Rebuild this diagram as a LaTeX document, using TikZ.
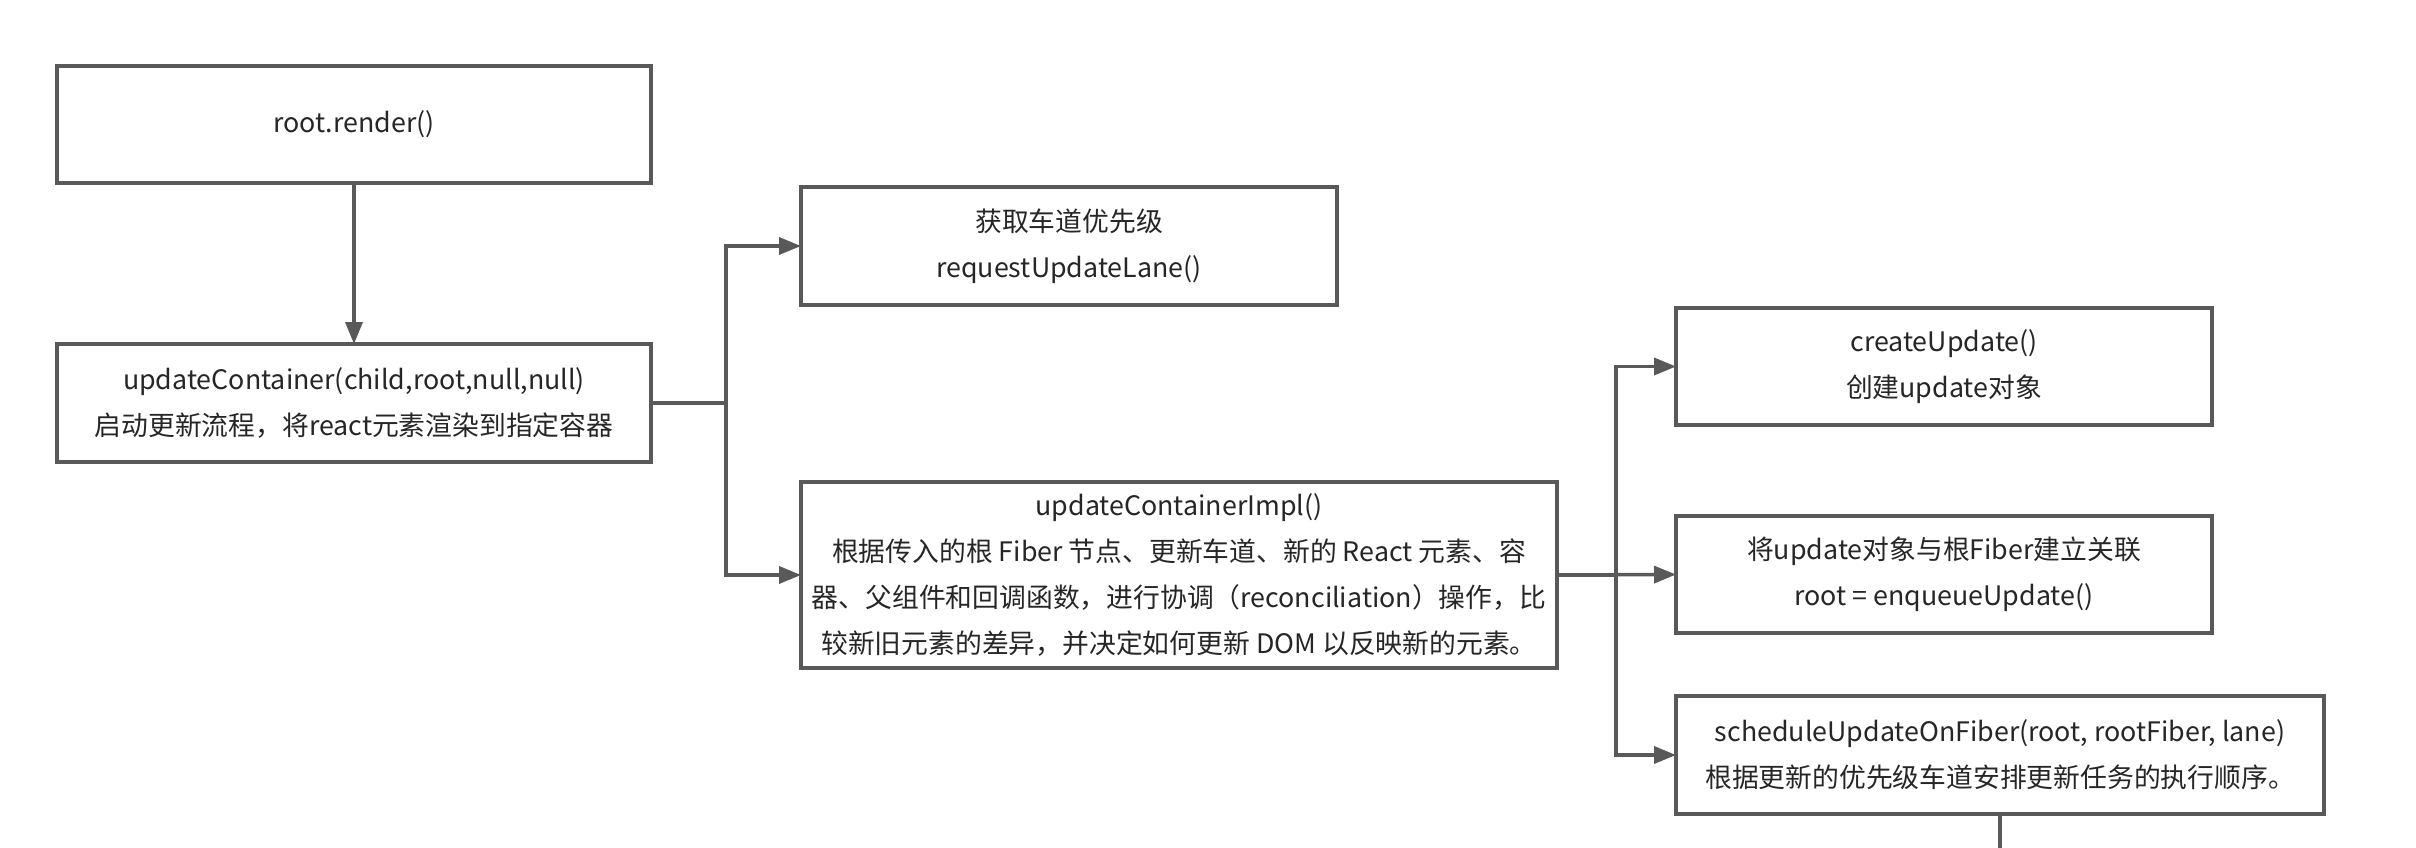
\documentclass[tikz,border=0pt]{standalone}
\usepackage{fontspec}
\setmainfont{Noto Sans CJK SC}
\usetikzlibrary{arrows.meta}
\definecolor{edgegray}{HTML}{595959}
\definecolor{txtgray}{HTML}{262626}
\begin{document}
\begin{tikzpicture}[x=1pt,y=-1pt,
  box/.style={draw=edgegray, line width=3.5pt, anchor=north west, inner sep=0pt, outer sep=0pt,
    align=center, font=\fontsize{26.8}{46}\selectfont, text=txtgray},
  conn/.style={draw=edgegray, line width=3.5pt},
  arr/.style={conn, -{Triangle[length=22pt,width=17pt]}}]
\useasboundingbox[fill=white] (0,0) rectangle (2416,848);

\node[box, minimum width=594pt, minimum height=117pt] (render) at (57,66) {root.render()};
\node[box, minimum width=594pt, minimum height=118pt] (container) at (57,344)
  {updateContainer(child,root,null,null)\\启动更新流程，将react元素渲染到指定容器};
\node[box, minimum width=536pt, minimum height=118pt] (lane) at (801,187)
  {获取车道优先级\\requestUpdateLane()};
\node[box, minimum width=756pt, minimum height=186pt] (impl) at (801,482)
  {updateContainerImpl()\\根据传入的根 Fiber 节点、更新车道、新的 React 元素、容\\器、父组件和回调函数，进行协调（reconciliation）操作，比\\较新旧元素的差异，并决定如何更新 DOM 以反映新的元素。};
\node[box, minimum width=536pt, minimum height=117pt] (create) at (1676,308)
  {createUpdate()\\创建update对象};
\node[box, minimum width=536pt, minimum height=117pt] (enqueue) at (1676,516)
  {将update对象与根Fiber建立关联\\root = enqueueUpdate()};
\node[box, minimum width=648pt, minimum height=118pt] (sched) at (1676,696)
  {scheduleUpdateOnFiber(root, rootFiber, lane)\\根据更新的优先级车道安排更新任务的执行顺序。};
\coordinate (out) at (2000,848);

\draw[arr] (render) -- (container);
\draw[arr] (container.east) -- ++(75,0) |- (lane.west);
\draw[arr] (container.east) -- ++(75,0) |- (impl.west);
\draw[arr] (impl.east) -- ++(59,0) |- (create.west);
\draw[arr] (impl.east) -- (enqueue.west);
\draw[arr] (impl.east) -- ++(59,0) |- (sched.west);
\draw[conn] (sched.south) -- (out);
\end{tikzpicture}
\end{document}
